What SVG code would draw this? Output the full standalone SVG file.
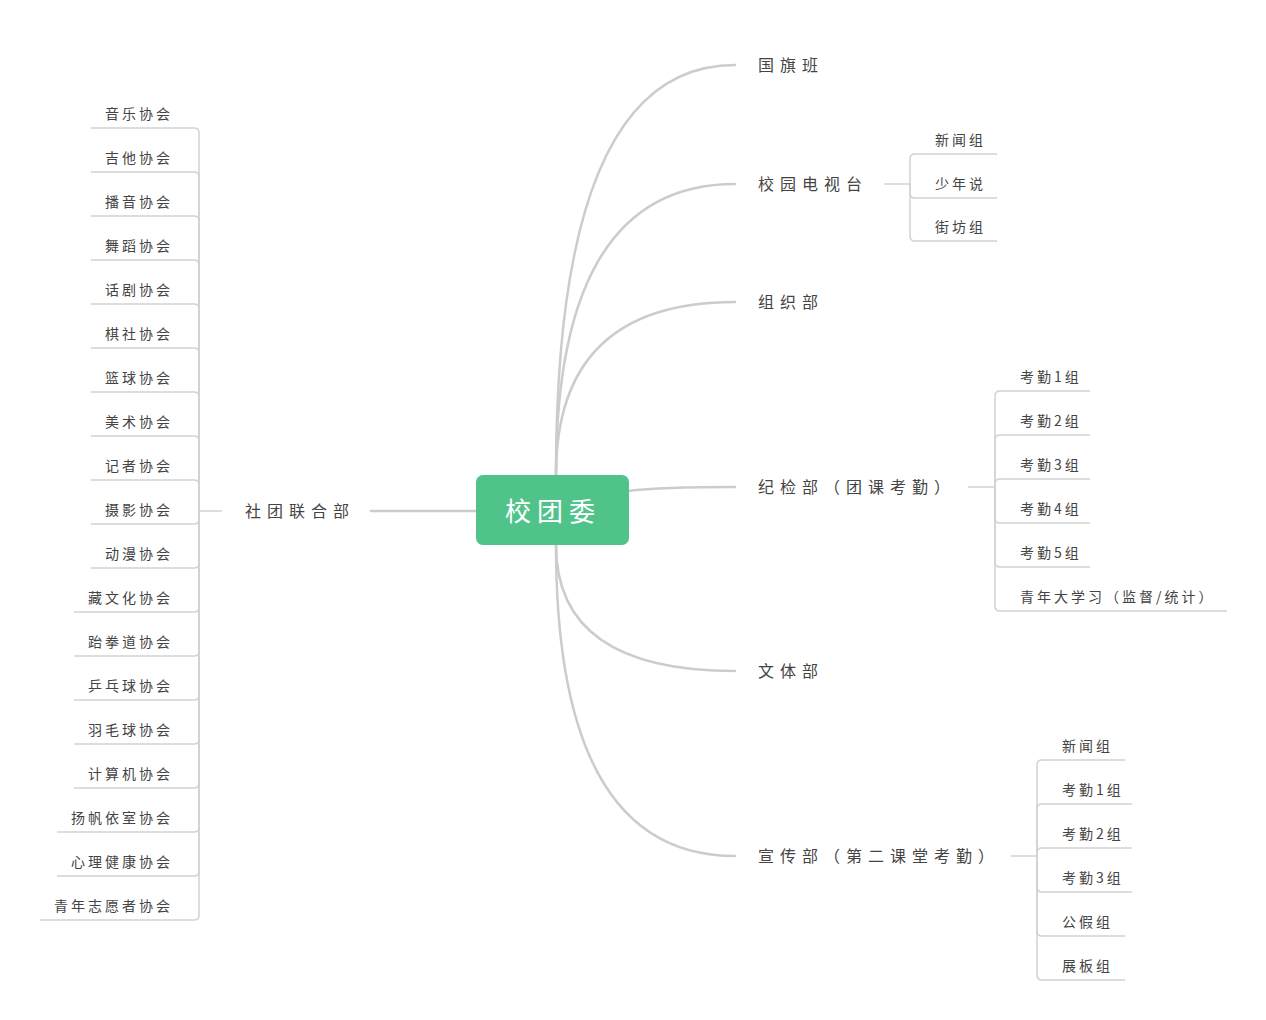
<svg xmlns="http://www.w3.org/2000/svg" width="1266" height="1020" viewBox="0 0 1266 1020">
<style>
  .main { fill: none; stroke: #cccccc; stroke-width: 2.5; stroke-linecap: round; }
  .sub { fill: none; stroke: #d2d2d2; stroke-width: 1.5; }
  .t1 { font-family: "Noto Sans CJK SC", "Noto Sans", sans-serif; font-size: 16px; letter-spacing: 6px; fill: #444444; }
  .t2 { font-family: "Noto Sans CJK SC", "Noto Sans", sans-serif; font-size: 14px; letter-spacing: 3px; fill: #444444; }
  .root { font-family: "Noto Sans CJK SC", "Noto Sans", sans-serif; font-size: 26px; letter-spacing: 6px; fill: #ffffff; }
</style>
<rect width="1266" height="1020" fill="#ffffff"/>
<g id="connectors">
  <path class="main" d="M556,475 Q556,65 735,65"/>
  <path class="main" d="M556,475 Q556,184 735,184"/>
  <path class="main" d="M556,475 Q556,302 735,302"/>
  <path class="main" d="M628,491 Q660,487 735,487"/>
  <path class="main" d="M556,545 Q556,671 735,671"/>
  <path class="main" d="M556,545 Q556,856 735,856"/>
  <path class="main" d="M476,511 H371"/>
  <path class="sub" d="M222,511 H199 V133 Q199,128 194,128 H91"/>
  <path class="sub" d="M199,511 V177 Q199,172 194,172 H91"/>
  <path class="sub" d="M199,511 V221 Q199,216 194,216 H91"/>
  <path class="sub" d="M199,511 V265 Q199,260 194,260 H91"/>
  <path class="sub" d="M199,511 V309 Q199,304 194,304 H91"/>
  <path class="sub" d="M199,511 V353 Q199,348 194,348 H91"/>
  <path class="sub" d="M199,511 V397 Q199,392 194,392 H91"/>
  <path class="sub" d="M199,511 V441 Q199,436 194,436 H91"/>
  <path class="sub" d="M199,511 V485 Q199,480 194,480 H91"/>
  <path class="sub" d="M199,511 V519 Q199,524 194,524 H91"/>
  <path class="sub" d="M199,511 V563 Q199,568 194,568 H91"/>
  <path class="sub" d="M199,511 V607 Q199,612 194,612 H74"/>
  <path class="sub" d="M199,511 V651 Q199,656 194,656 H74"/>
  <path class="sub" d="M199,511 V695 Q199,700 194,700 H74"/>
  <path class="sub" d="M199,511 V739 Q199,744 194,744 H74"/>
  <path class="sub" d="M199,511 V783 Q199,788 194,788 H74"/>
  <path class="sub" d="M199,511 V827 Q199,832 194,832 H57"/>
  <path class="sub" d="M199,511 V871 Q199,876 194,876 H57"/>
  <path class="sub" d="M199,511 V915 Q199,920 194,920 H40"/>
  <path class="sub" d="M884,184 H910 V159 Q910,154 915,154 H997"/>
  <path class="sub" d="M910,184 V193 Q910,198 915,198 H997"/>
  <path class="sub" d="M910,184 V236 Q910,241 915,241 H997"/>
  <path class="sub" d="M968,487 H995 V396 Q995,391 1000,391 H1090"/>
  <path class="sub" d="M995,487 V440 Q995,435 1000,435 H1090"/>
  <path class="sub" d="M995,487 V484 Q995,479 1000,479 H1090"/>
  <path class="sub" d="M995,487 V518 Q995,523 1000,523 H1090"/>
  <path class="sub" d="M995,487 V562 Q995,567 1000,567 H1090"/>
  <path class="sub" d="M995,487 V606 Q995,611 1000,611 H1227"/>
  <path class="sub" d="M1011,856 H1037 V765 Q1037,760 1042,760 H1125"/>
  <path class="sub" d="M1037,856 V809 Q1037,804 1042,804 H1132"/>
  <path class="sub" d="M1037,856 V853 Q1037,848 1042,848 H1132"/>
  <path class="sub" d="M1037,856 V887 Q1037,892 1042,892 H1132"/>
  <path class="sub" d="M1037,856 V931 Q1037,936 1042,936 H1125"/>
  <path class="sub" d="M1037,856 V975 Q1037,980 1042,980 H1125"/>
</g>
<g id="root">
  <rect x="476" y="475" width="153" height="70" rx="7" fill="#50c38b"/>
  <text class="root" x="505" y="521">校团委</text>
</g>
<g id="n-guoqiban"><text class="t1" x="758" y="71">国旗班</text></g>
<g id="n-dianshitai"><text class="t1" x="758" y="190">校园电视台</text></g>
<g id="n-dst-1"><text class="t2" x="935" y="145">新闻组</text></g>
<g id="n-dst-2"><text class="t2" x="935" y="189">少年说</text></g>
<g id="n-dst-3"><text class="t2" x="935" y="232">街坊组</text></g>
<g id="n-zuzhi"><text class="t1" x="758" y="308">组织部</text></g>
<g id="n-jijian"><text class="t1" x="758" y="493">纪检部（团课考勤）</text></g>
<g id="n-jj-1"><text class="t2" x="1020" y="382">考勤1组</text></g>
<g id="n-jj-2"><text class="t2" x="1020" y="426">考勤2组</text></g>
<g id="n-jj-3"><text class="t2" x="1020" y="470">考勤3组</text></g>
<g id="n-jj-4"><text class="t2" x="1020" y="514">考勤4组</text></g>
<g id="n-jj-5"><text class="t2" x="1020" y="558">考勤5组</text></g>
<g id="n-jj-6"><text class="t2" x="1020" y="602">青年大学习（监督/统计）</text></g>
<g id="n-wenti"><text class="t1" x="758" y="677">文体部</text></g>
<g id="n-xuanchuan"><text class="t1" x="758" y="862">宣传部（第二课堂考勤）</text></g>
<g id="n-xc-1"><text class="t2" x="1062" y="751">新闻组</text></g>
<g id="n-xc-2"><text class="t2" x="1062" y="795">考勤1组</text></g>
<g id="n-xc-3"><text class="t2" x="1062" y="839">考勤2组</text></g>
<g id="n-xc-4"><text class="t2" x="1062" y="883">考勤3组</text></g>
<g id="n-xc-5"><text class="t2" x="1062" y="927">公假组</text></g>
<g id="n-xc-6"><text class="t2" x="1062" y="971">展板组</text></g>
<g id="n-shelian"><text class="t1" x="245" y="517">社团联合部</text></g>
<g id="n-sl-1"><text class="t2" x="105" y="119">音乐协会</text></g>
<g id="n-sl-2"><text class="t2" x="105" y="163">吉他协会</text></g>
<g id="n-sl-3"><text class="t2" x="105" y="207">播音协会</text></g>
<g id="n-sl-4"><text class="t2" x="105" y="251">舞蹈协会</text></g>
<g id="n-sl-5"><text class="t2" x="105" y="295">话剧协会</text></g>
<g id="n-sl-6"><text class="t2" x="105" y="339">棋社协会</text></g>
<g id="n-sl-7"><text class="t2" x="105" y="383">篮球协会</text></g>
<g id="n-sl-8"><text class="t2" x="105" y="427">美术协会</text></g>
<g id="n-sl-9"><text class="t2" x="105" y="471">记者协会</text></g>
<g id="n-sl-10"><text class="t2" x="105" y="515">摄影协会</text></g>
<g id="n-sl-11"><text class="t2" x="105" y="559">动漫协会</text></g>
<g id="n-sl-12"><text class="t2" x="88" y="603">藏文化协会</text></g>
<g id="n-sl-13"><text class="t2" x="88" y="647">跆拳道协会</text></g>
<g id="n-sl-14"><text class="t2" x="88" y="691">乒乓球协会</text></g>
<g id="n-sl-15"><text class="t2" x="88" y="735">羽毛球协会</text></g>
<g id="n-sl-16"><text class="t2" x="88" y="779">计算机协会</text></g>
<g id="n-sl-17"><text class="t2" x="71" y="823">扬帆依室协会</text></g>
<g id="n-sl-18"><text class="t2" x="71" y="867">心理健康协会</text></g>
<g id="n-sl-19"><text class="t2" x="54" y="911">青年志愿者协会</text></g>
</svg>
